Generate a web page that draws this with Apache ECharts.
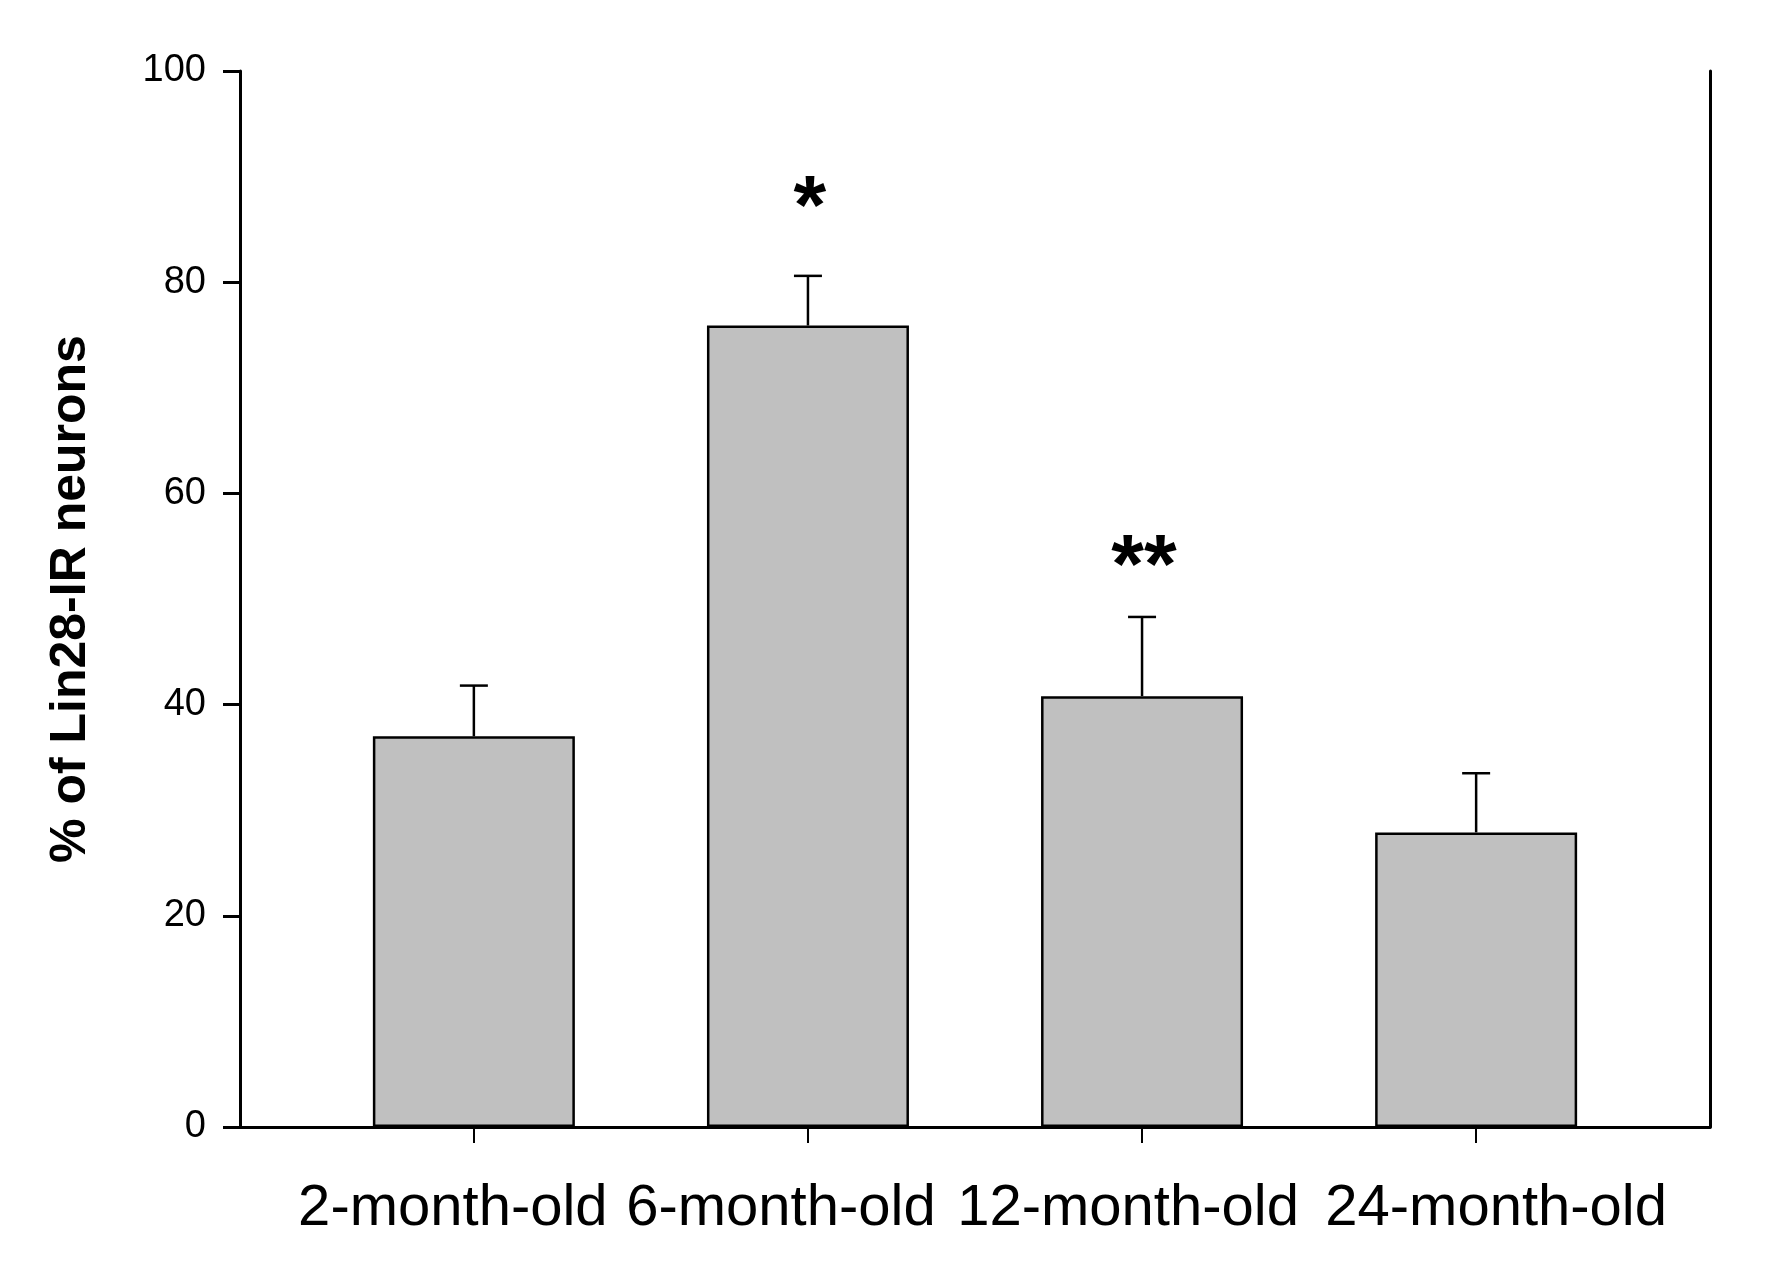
<!DOCTYPE html>
<html>
<head>
<meta charset="utf-8">
<script src="https://cdn.jsdelivr.net/npm/echarts@6/dist/echarts.min.js"></script>
<style>
  html, body { margin: 0; padding: 0; background: #ffffff; }
  #chart { width: 1776px; height: 1283px; }
</style>
</head>
<body>
<div id="chart"></div>
<script>
const categories = ['2-month-old', '6-month-old', '12-month-old', '24-month-old'];
const positions = [1, 2, 3, 4];
const means = [37.0, 75.9, 40.8, 27.9];
const errors = [4.8, 4.7, 7.5, 5.6];
const starLabels = ['', '*', '**', ''];
const starValues = [null, 88.5, 54.5, null];
const yTicks = [0, 20, 40, 60, 80, 100];

const FONT = "'Liberation Sans', Arial, sans-serif";
// horizontal nudges of the category labels (style only)
const labelShift = [-21, -27, -14, 20];

const barData = positions.map((p, i) => [p, means[i]]);
const errData = positions.map((p, i) => [p, means[i], errors[i]]);
const starData = positions
  .map((p, i) => ({ value: [p, starValues[i]], label: starLabels[i] }))
  .filter(d => d.value[1] !== null);

const rich = {};
labelShift.forEach((s, i) => {
  rich['c' + i] = {
    fontFamily: FONT,
    fontSize: 58,
    color: '#000',
    padding: s < 0 ? [0, -2 * s, 0, 0] : [0, 0, 0, 2 * s]
  };
});

const chart = echarts.init(document.getElementById('chart'), null, { renderer: 'canvas' });

chart.setOption({
  backgroundColor: '#ffffff',
  animation: false,
  grid: { left: 240, right: 66, top: 71, bottom: 156, containLabel: false },
  xAxis: {
    type: 'value',
    min: 0.3,
    max: 4.7,
    splitLine: { show: false },
    axisLine: { show: true, onZero: false, lineStyle: { color: '#000', width: 3 } },
    axisTick: {
      show: true,
      customValues: positions,
      length: 16,
      lineStyle: { color: '#000', width: 2 }
    },
    axisLabel: {
      show: true,
      customValues: positions,
      hideOverlap: false,
      showMinLabel: true,
      showMaxLabel: true,
      margin: 53,
      color: '#000',
      fontFamily: FONT,
      fontSize: 58,
      rich: rich,
      formatter: function (v) {
        const idx = positions.indexOf(Math.round(v));
        return idx >= 0 ? '{c' + idx + '|' + categories[idx] + '}' : '';
      }
    }
  },
  yAxis: [
    {
      type: 'value',
      min: 0,
      max: 100,
      interval: 20,
      position: 'left',
      name: '% of Lin28-IR neurons',
      nameLocation: 'middle',
      nameGap: 144,
      nameTextStyle: { color: '#000', fontFamily: FONT, fontSize: 50, fontWeight: 'bold' },
      splitLine: { show: false },
      axisLine: { show: true, lineStyle: { color: '#000', width: 3 } },
      axisTick: { show: true, length: 17, lineStyle: { color: '#000', width: 3 } },
      axisLabel: {
        margin: 34,
        color: '#000',
        fontFamily: FONT,
        fontSize: 38,
        formatter: function (v) { return yTicks.indexOf(v) >= 0 ? String(v) : ''; }
      }
    },
    {
      type: 'value',
      min: 0,
      max: 100,
      position: 'right',
      splitLine: { show: false },
      axisLine: { show: true, lineStyle: { color: '#000', width: 3 } },
      axisTick: { show: false },
      axisLabel: { show: false }
    }
  ],
  series: [
    {
      type: 'bar',
      data: barData,
      barWidth: 202,
      itemStyle: { color: '#c0c0c0', borderColor: '#000', borderWidth: 2.5 },
      z: 2
    },
    {
      type: 'custom',
      data: errData,
      z: 3,
      renderItem: function (params, api) {
        const x = api.value(0);
        const m = api.value(1);
        const e = api.value(2);
        const p0 = api.coord([x, m]);
        const p1 = api.coord([x, m + e]);
        const half = 14;
        const style = { stroke: '#000', lineWidth: 2.5 };
        return {
          type: 'group',
          children: [
            { type: 'line', shape: { x1: p0[0], y1: p0[1], x2: p1[0], y2: p1[1] }, style: style },
            { type: 'line', shape: { x1: p1[0] - half, y1: p1[1], x2: p1[0] + half, y2: p1[1] }, style: style }
          ]
        };
      }
    },
    {
      type: 'scatter',
      data: starData.map(d => ({ value: d.value, label: { formatter: d.label } })),
      symbolSize: 0,
      itemStyle: { color: '#000', opacity: 1 },
      z: 4,
      label: {
        show: true,
        position: 'inside',
        offset: [2, 18],
        color: '#000',
        opacity: 1,
        textBorderWidth: 0,
        textBorderColor: 'transparent',
        fontFamily: FONT,
        fontSize: 84,
        fontWeight: 'bold'
      }
    }
  ]
});
</script>
</body>
</html>
